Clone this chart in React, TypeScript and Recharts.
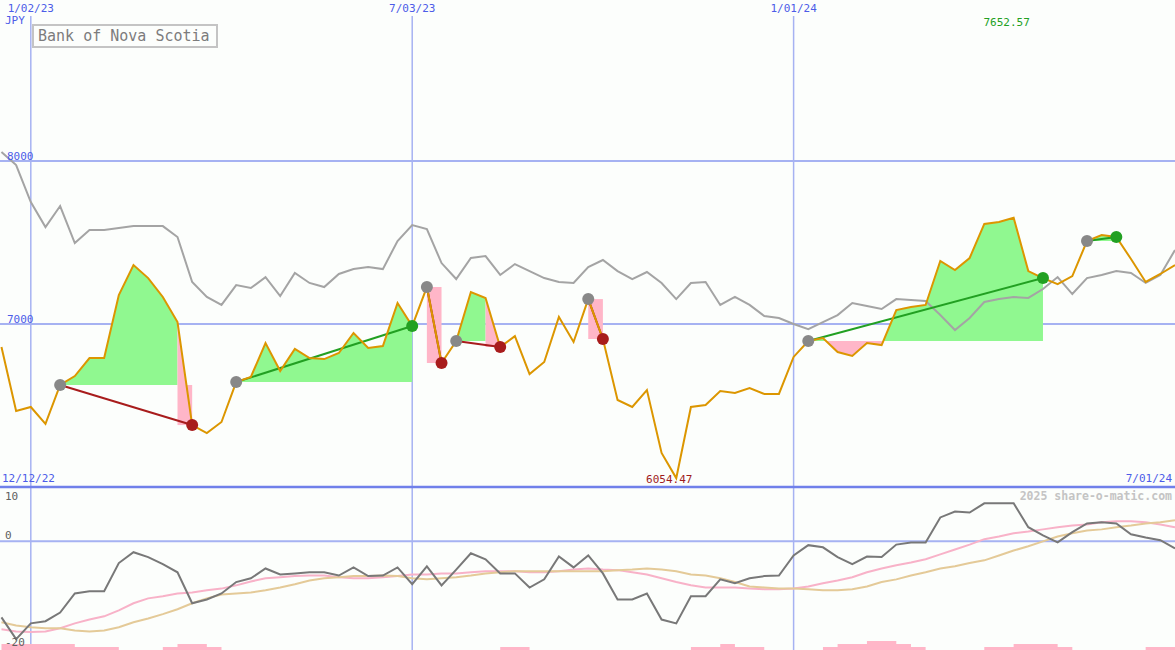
import React from "react"
import { ComposedChart, Line, Area, Scatter, XAxis, YAxis, CartesianGrid, ReferenceDot } from "recharts"

// weekly closes, JPY, week 0 = 12/19/22 ... week 80 = 7/01/24
const dateTicks = [2, 28, 54]
const dateLabels = ["1/02/23", "7/03/23", "1/01/24"]
const priceTicks = [7000, 8000]
const oscTicks = [-20, 0, 10]

const price = [
  6859, 6466, 6491, 6387, 6626, 6681, 6791, 6791, 7178, 7362,
  7282, 7166, 7012, 6380, 6331, 6399, 6644, 6675, 6883, 6712,
  6847, 6791, 6785, 6822, 6945, 6853, 6865, 7129, 6988, 7227,
  6761, 6896, 7196, 7160, 6859, 6926, 6693, 6767, 7043, 6890,
  7153, 6908, 6534, 6491, 6595, 6209, 6054.47, 6491, 6503, 6589,
  6577, 6607, 6571, 6571, 6798, 6896, 6914, 6828, 6804, 6883,
  6871, 7086, 7104, 7117, 7387, 7331, 7405, 7614, 7626, 7652.57,
  7325, 7282, 7245, 7294, 7509, 7546, 7534, 7399, 7258, 7307, 7362,
]

// relative strength line (grey)
const relative = [
  8055, 7975, 7748, 7595, 7724, 7497, 7577, 7577, 7589, 7601,
  7601, 7601, 7534, 7258, 7166, 7117, 7239, 7221, 7288, 7172,
  7313, 7252, 7227, 7307, 7337, 7350, 7337, 7509, 7607, 7583,
  7374, 7276, 7405, 7417, 7301, 7368, 7325, 7282, 7258, 7252,
  7350, 7393, 7325, 7276, 7319, 7252, 7153, 7252, 7258, 7117,
  7166, 7117, 7049, 7037, 7000, 6969, 7012, 7055, 7129, 7110,
  7092, 7153, 7147, 7141, 7055, 6963, 7037, 7135, 7153, 7166,
  7160, 7215, 7288, 7184, 7282, 7301, 7325, 7313, 7252, 7301, 7454,
]

// lower panel
const momentum = [
  -14.0, -18.0, -15.1, -14.7, -13.1, -9.6, -9.2, -9.2, -4.0, -2.0,
  -2.9, -4.2, -5.7, -11.4, -10.7, -9.6, -7.5, -6.8, -5.0, -6.1,
  -5.9, -5.7, -5.7, -6.3, -4.8, -6.4, -6.3, -4.8, -7.9, -4.6,
  -8.1, -5.2, -2.2, -3.3, -5.9, -5.9, -8.5, -7.0, -2.8, -4.8,
  -2.6, -5.9, -10.7, -10.7, -9.6, -14.4, -15.1, -10.1, -10.1, -7.0,
  -7.7, -6.8, -6.4, -6.3, -2.6, -0.7, -1.1, -2.9, -4.2, -2.8,
  -2.9, -0.6, -0.2, -0.2, 4.4, 5.5, 5.3, 7.0, 7.0, 7.0,
  2.6, 1.1, -0.2, 1.7, 3.3, 3.5, 3.3, 1.3, 0.7, 0.2, -1.3,
]
const signal = [
  -16.2, -16.6, -16.7, -16.6, -16.0, -15.1, -14.4, -13.8, -12.7, -11.4,
  -10.5, -10.1, -9.6, -9.4, -9.0, -8.7, -8.1, -7.4, -6.8, -6.6,
  -6.4, -6.3, -6.3, -6.6, -6.8, -6.8, -6.6, -6.4, -6.1, -6.1,
  -5.9, -5.9, -5.7, -5.5, -5.5, -5.5, -5.7, -5.7, -5.5, -5.2,
  -5.0, -5.2, -5.3, -5.7, -6.1, -6.8, -7.5, -8.1, -8.5, -8.5,
  -8.5, -8.7, -8.8, -8.8, -8.7, -8.3, -7.7, -7.2, -6.6, -5.7,
  -5.0, -4.4, -3.9, -3.3, -2.4, -1.5, -0.6, 0.4, 0.9, 1.5,
  1.8, 2.2, 2.6, 2.9, 3.1, 3.5, 3.7, 3.7, 3.5, 3.1, 2.6,
]
const slow = [
  -14.9, -15.5, -15.8, -16.0, -16.0, -16.4, -16.6, -16.4, -15.8, -14.9,
  -14.2, -13.4, -12.5, -11.4, -10.5, -9.8, -9.6, -9.4, -9.0, -8.5,
  -7.9, -7.2, -6.8, -6.6, -6.4, -6.4, -6.3, -6.4, -6.8, -7.0,
  -6.8, -6.6, -6.3, -5.9, -5.7, -5.5, -5.5, -5.5, -5.5, -5.5,
  -5.5, -5.5, -5.3, -5.2, -5.0, -5.2, -5.5, -6.1, -6.3, -6.8,
  -7.5, -8.3, -8.5, -8.7, -8.7, -8.8, -9.0, -9.0, -8.8, -8.3,
  -7.5, -7.0, -6.3, -5.7, -5.0, -4.6, -4.0, -3.5, -2.6, -1.7,
  -0.9, 0.0, 0.9, 1.5, 2.0, 2.2, 2.6, 2.9, 3.3, 3.5, 3.9,
]
const volume = [
  2, 2, 2, 2, 2, 1, 1, 1, 0, 0,
  0, 1, 2, 2, 1, 0, 0, 0, 0, 0,
  0, 0, 0, 0, 0, 0, 0, 0, 0, 0,
  0, 0, 0, 0, 1, 1, 0, 0, 0, 0,
  0, 0, 0, 0, 0, 0, 0, 1, 1, 2,
  1, 1, 0, 0, 0, 0, 1, 2, 2, 3,
  3, 2, 1, 0, 0, 0, 0, 1, 1, 2,
  2, 2, 1, 0, 0, 0, 0, 0, 1, 1, 1,
]

// trades: buy week -> sell week
const entries = [4, 16, 29, 31, 40, 55, 74]
const exits = [13, 28, 30, 34, 41, 71, 76]

const MONO = '"DejaVu Sans Mono", "Liberation Mono", monospace'
const BG = "#fcfefc"
const BLUE_TEXT = "#4c5ce8"
const GRID = "#a6b2f2"
const DIVIDER = "#7080ea"
const ORANGE = "#dc9600"
const GREY = "#a4a4a4"
const GREEN_FILL = "#90f890"
const PINK_FILL = "#ffb6c8"
const WIN = "#22a022"
const LOSS = "#a81c1c"

const X_DOMAIN = [-0.1, 80]
const Y_DOMAIN = [6000, 8890]

const rows = price.map((p, i) => ({
  i,
  price: p,
  rel: relative[i],
  mom: momentum[i],
  sig: signal[i],
  slow: slow[i],
  vol: volume[i],
}))

const trades = entries.map((e, k) => {
  const x = exits[k]
  const base = price[e]
  const win = price[x] >= base
  const end = win ? x : x - 1
  const fill: any[] = []
  for (let i = e; i <= end; i++) {
    if (i > e) {
      const a = price[i - 1] - base
      const b = price[i] - base
      if ((a > 0 && b < 0) || (a < 0 && b > 0)) {
        fill.push({ i: i - 1 + a / (a - b), up: [base, base], dn: [base, base] })
      }
    }
    fill.push({ i, up: [base, Math.max(price[i], base)], dn: [Math.min(price[i], base), base] })
  }
  let lossTop: any[] = []
  let lossRect: any[] = []
  if (!win) {
    const prev = price[x - 1]
    if (prev > base) {
      const f = (prev - base) / (prev - price[x])
      lossTop = [
        { i: x - 1, v: [base, prev] },
        { i: x - 1 + f, v: [base, base] },
      ]
    }
    lossRect = [
      { i: x - 1, v: [price[x], base] },
      { i: x, v: [price[x], base] },
    ]
  }
  return {
    k,
    win,
    fill,
    lossTop,
    lossRect,
    link: [
      { i: e, v: base },
      { i: x, v: price[x] },
    ],
  }
})

const dots = [
  ...entries.map((e) => ({ i: e, v: price[e], c: "#888888" })),
  ...exits.map((x, k) => ({ i: x, v: price[x], c: price[x] >= price[entries[k]] ? WIN : LOSS })),
]

const maxIdx = price.indexOf(Math.max(...price))
const minIdx = price.indexOf(Math.min(...price))

const PriceTick = (props: any) => (
  <text x={7} y={props.y - 5} dominantBaseline="central" fill={BLUE_TEXT} fontSize={11} fontFamily={MONO}>
    {props.payload.value}
  </text>
)

const OscTick = (props: any) => {
  const v = props.payload.value
  const dy = v === 10 ? 9 : v === 0 ? -6 : -8
  return (
    <text x={5} y={props.y + dy} dominantBaseline="central" fill="#606060" fontSize={11} fontFamily={MONO}>
      {v}
    </text>
  )
}

const abs = (extra: React.CSSProperties): React.CSSProperties => ({
  position: "absolute",
  fontFamily: MONO,
  fontSize: 11,
  lineHeight: "12px",
  whiteSpace: "nowrap",
  ...extra,
})

export default function App() {
  return (
    <div style={{ position: "absolute", left: 0, top: 0, width: 1175, height: 650, background: BG, overflow: "hidden" }}>
      <div style={{ position: "absolute", left: 0, top: 0 }}>
        <ComposedChart width={1175} height={487} data={rows} margin={{ top: 0, right: 0, bottom: 0, left: 0 }}>
          <XAxis
            type="number"
            dataKey="i"
            orientation="top"
            domain={X_DOMAIN}
            allowDataOverflow
            ticks={dateTicks}
            interval={0}
            tickFormatter={(v) => dateLabels[dateTicks.indexOf(v)]}
            height={16}
            axisLine={false}
            tickLine={false}
            tickSize={0}
            tickMargin={4}
            tick={{ fill: BLUE_TEXT, fontSize: 11, fontFamily: MONO }}
          />
          <YAxis
            domain={Y_DOMAIN}
            allowDataOverflow
            ticks={priceTicks}
            interval={0}
            mirror
            axisLine={false}
            tickLine={false}
            tick={(p: any) => <PriceTick {...p} />}
          />
          <CartesianGrid horizontal={false} verticalValues={dateTicks} stroke={GRID} strokeWidth={1.5} />
          <CartesianGrid vertical={false} horizontalValues={priceTicks} stroke={GRID} strokeWidth={2} />

          {trades.map((t) => (
            <Area key={"up" + t.k} data={t.fill} dataKey="up" type="linear" stroke="none" fill={GREEN_FILL} fillOpacity={1} dot={false} activeDot={false} isAnimationActive={false} />
          ))}
          {trades.map((t) => (
            <Area key={"dn" + t.k} data={t.fill} dataKey="dn" type="linear" stroke="none" fill={PINK_FILL} fillOpacity={1} dot={false} activeDot={false} isAnimationActive={false} />
          ))}
          {trades
            .filter((t) => t.lossTop.length)
            .map((t) => (
              <Area key={"lt" + t.k} data={t.lossTop} dataKey="v" type="linear" stroke="none" fill={PINK_FILL} fillOpacity={1} dot={false} activeDot={false} isAnimationActive={false} />
            ))}
          {trades
            .filter((t) => t.lossRect.length)
            .map((t) => (
              <Area key={"lr" + t.k} data={t.lossRect} dataKey="v" type="linear" stroke="none" fill={PINK_FILL} fillOpacity={1} dot={false} activeDot={false} isAnimationActive={false} />
            ))}

          <Line dataKey="rel" type="linear" stroke={GREY} strokeWidth={2} dot={false} activeDot={false} isAnimationActive={false} />

          {trades.map((t) => (
            <Line key={"ln" + t.k} data={t.link} dataKey="v" type="linear" stroke={t.win ? WIN : LOSS} strokeWidth={2} dot={false} activeDot={false} isAnimationActive={false} />
          ))}

          <Scatter
            data={dots}
            dataKey="v"
            isAnimationActive={false}
            shape={(p: any) => <circle cx={p.cx} cy={p.cy} r={6} fill={p.payload.c} />}
          />

          <Line dataKey="price" type="linear" stroke={ORANGE} strokeWidth={2} dot={false} activeDot={false} isAnimationActive={false} />

          <ReferenceDot
            x={maxIdx}
            y={Y_DOMAIN[1]}
            r={0}
            label={(p: any) => (
              <text x={p.viewBox.x - 7} y={p.viewBox.y + 6} textAnchor="middle" dominantBaseline="central" fill={WIN} fontSize={11} fontFamily={MONO}>
                {price[maxIdx].toFixed(2)}
              </text>
            )}
          />
          <ReferenceDot
            x={minIdx}
            y={price[minIdx]}
            r={0}
            label={(p: any) => (
              <text x={p.viewBox.x - 7} y={p.viewBox.y + 1} textAnchor="middle" dominantBaseline="central" fill="#a01c1c" fontSize={11} fontFamily={MONO}>
                {price[minIdx].toFixed(2)}
              </text>
            )}
          />
        </ComposedChart>
      </div>

      <div style={{ position: "absolute", left: 0, top: 485 }}>
        <ComposedChart width={1175} height={165} data={rows} margin={{ top: 2, right: 0, bottom: 0, left: 0 }}>
          <XAxis type="number" dataKey="i" domain={X_DOMAIN} allowDataOverflow hide />
          <YAxis
            yAxisId="osc"
            domain={[-20, 10]}
            allowDataOverflow
            ticks={oscTicks}
            interval={0}
            mirror
            axisLine={false}
            tickLine={false}
            tick={(p: any) => <OscTick {...p} />}
          />
          <YAxis yAxisId="bars" domain={[0, 163 / 3]} allowDataOverflow hide />
          <CartesianGrid yAxisId="osc" horizontal={false} verticalValues={dateTicks} stroke={GRID} strokeWidth={1.5} />
          <CartesianGrid yAxisId="osc" vertical={false} horizontalValues={[0]} stroke={GRID} strokeWidth={2} />
          <CartesianGrid yAxisId="osc" vertical={false} horizontalValues={[10]} stroke={DIVIDER} strokeWidth={2.5} />

          <Area yAxisId="bars" dataKey="vol" type="stepAfter" stroke="none" fill={PINK_FILL} fillOpacity={1} dot={false} activeDot={false} isAnimationActive={false} />
          <Line yAxisId="osc" dataKey="sig" type="linear" stroke="#f8b2c8" strokeWidth={2} dot={false} activeDot={false} isAnimationActive={false} />
          <Line yAxisId="osc" dataKey="slow" type="linear" stroke="#e4ca98" strokeWidth={2} dot={false} activeDot={false} isAnimationActive={false} />
          <Line yAxisId="osc" dataKey="mom" type="linear" stroke="#787878" strokeWidth={2} dot={false} activeDot={false} isAnimationActive={false} />
        </ComposedChart>
      </div>

      <div
        style={{
          position: "absolute",
          left: 32,
          top: 24,
          width: 186,
          height: 24,
          boxSizing: "border-box",
          border: "2px solid #c4c4c4",
          background: BG,
          color: "#7c7c7c",
          fontFamily: MONO,
          fontSize: 15,
          lineHeight: "20px",
          paddingLeft: 4,
          whiteSpace: "nowrap",
        }}
      >
        Bank of Nova Scotia
      </div>
      <div style={abs({ left: 5, top: 15, color: BLUE_TEXT })}>JPY</div>
      <div style={abs({ left: 2, top: 473, color: BLUE_TEXT })}>12/12/22</div>
      <div style={abs({ right: 3, top: 473, color: BLUE_TEXT })}>7/01/24</div>
      <div style={abs({ right: 3, top: 490, color: "#c4c4c4", fontWeight: "bold", fontSize: 11.5 })}>2025 share-o-matic.com</div>
    </div>
  )
}
